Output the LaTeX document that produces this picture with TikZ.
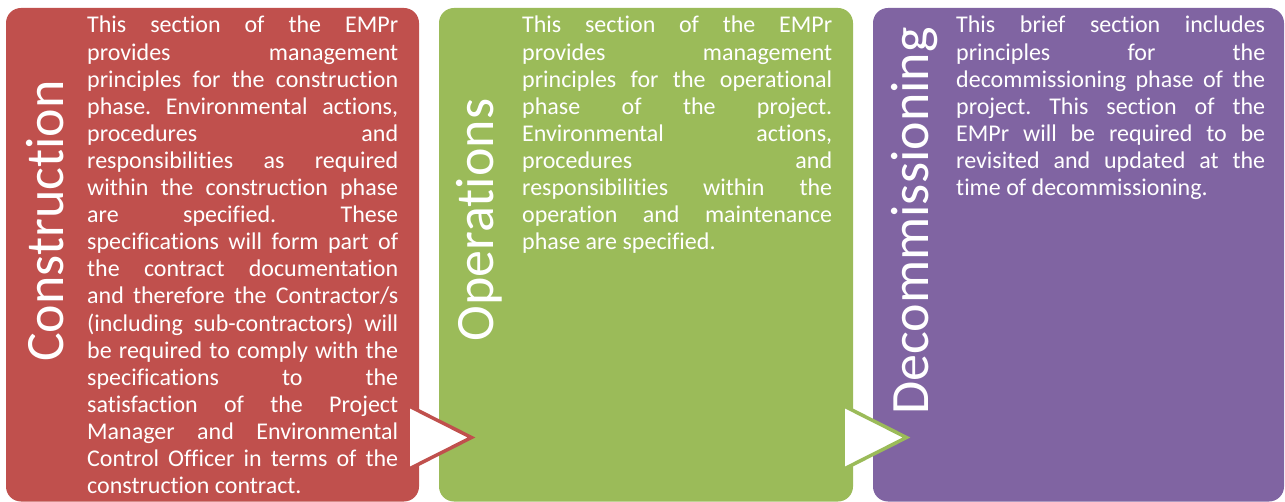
\documentclass[tikz,border=0pt]{standalone}
\usepackage{fontspec}
\setmainfont{Carlito}[Ligatures={NoCommon}]
\definecolor{cred}{HTML}{C0504D}
\definecolor{cgreen}{HTML}{9BBB59}
\definecolor{cpurple}{HTML}{8064A2}
\frenchspacing
\newcommand\bodypar[2]{\parbox[t]{#1}{\hyphenpenalty=10000 \exhyphenpenalty=10000 \tolerance=10000 \hbadness=10000 #2}}
\begin{document}
\begin{tikzpicture}[x=1pt,y=-1pt,
  panel/.style={rounded corners=15pt},
  title/.style={rotate=90, anchor=base, inner sep=0pt, text=white, font=\fontsize{54}{60}\selectfont},
  body/.style={anchor=base west, inner sep=0pt, text=white, font=\fontsize{24}{27.1}\selectfont},
  chevron/.style={fill=white, line width=3.5pt, line join=miter}]
\useasboundingbox (0,0) rectangle (1285,502);
% panels
\fill[panel, cred] (6,8) rectangle (419,501.5);
\fill[panel, cgreen] (439,8) rectangle (853,501.5);
\fill[panel, cpurple] (873,8) rectangle (1284,501.5);
% titles
\node[title] (t1) at (63,221) {Construction};
\node[title] (t2) at (493,220) {Operations};
\node[title] (t3) at (928,221) {Decommissioning};
% bodies
\node[body] (b1) at (87,33) {\bodypar{311pt}{This section of the EMPr\linebreak
provides management\linebreak
principles for the construction\linebreak
phase. Environmental actions,\linebreak
procedures and\linebreak
responsibilities as required\linebreak
within the construction phase\linebreak
are specified. These\linebreak
specifications will form part of\linebreak
the contract documentation\linebreak
and therefore the Contractor/s\linebreak
(including sub-contractors) will\linebreak
be required to comply with the\linebreak
specifications to the\linebreak
satisfaction of the Project\linebreak
Manager and Environmental\linebreak
Control Officer in terms of the\linebreak
construction contract.}};
\node[body] (b2) at (522,33) {\bodypar{310pt}{This section of the EMPr\linebreak
provides management\linebreak
principles for the operational\linebreak
phase of the project.\linebreak
Environmental actions,\linebreak
procedures and\linebreak
responsibilities within the\linebreak
operation and maintenance\linebreak
phase are specified.}};
\node[body] (b3) at (956,33) {\bodypar{309pt}{This brief section includes\linebreak
principles for the\linebreak
decommissioning phase of the\linebreak
project. This section of the\linebreak
EMPr will be required to be\linebreak
revisited and updated at the\linebreak
time of decommissioning.}};
% chevrons
\coordinate (a1) at (408,405.5);
\coordinate (a1tip) at (471.5,437.5);
\coordinate (a1b) at (408,469.5);
\draw[chevron, draw=cred] (a1) -- (a1tip) -- (a1b) -- cycle;
\coordinate (a2) at (843,405.5);
\coordinate (a2tip) at (906.5,437.5);
\coordinate (a2b) at (843,469.5);
\draw[chevron, draw=cgreen] (a2) -- (a2tip) -- (a2b) -- cycle;
\end{tikzpicture}
\end{document}
